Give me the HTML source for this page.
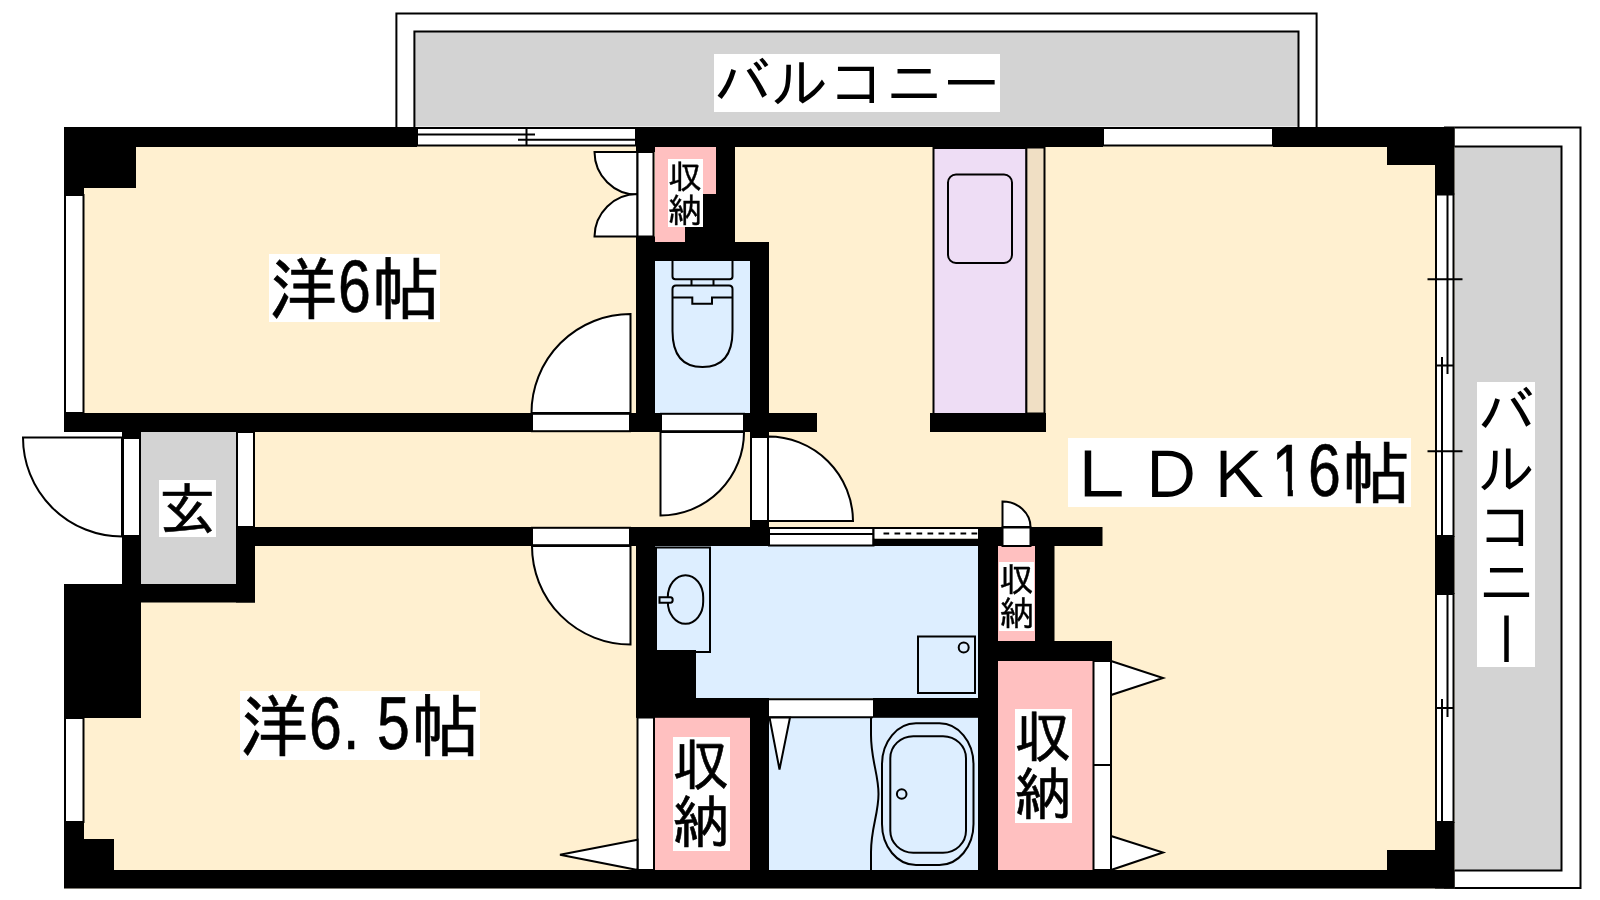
<!DOCTYPE html>
<html lang="ja">
<head>
<meta charset="utf-8">
<title>間取り図</title>
<style>
html,body{margin:0;padding:0;background:#fff;}
body{width:1600px;height:900px;position:relative;overflow:hidden;
  font-family:"Liberation Sans","IPAGothic",sans-serif;color:#000;}
svg{position:absolute;left:0;top:0;display:block;}
.lb{position:absolute;background:#fff;filter:grayscale(1);white-space:nowrap;line-height:1;overflow:visible;}
.lb span.t{position:absolute;left:0;top:0;display:block;line-height:1;}
.v{writing-mode:vertical-rl;}
.n{display:inline-block;width:0.5em;transform-origin:0 84.65%;transform:translate(0px,-2px) scale(0.86,1.073);-webkit-text-stroke:0.65px #000;}
.one{clip-path:polygon(0 0,71.5% 0,71.5% 100%,54% 100%,54% 50%,0 50%);transform:translate(-2.2px,-2px) scale(0.86,1.073);}
.fw{display:inline-block;transform-origin:0 84.65%;transform:translateY(1.500px) scale(1,0.96);-webkit-text-stroke:0;}
.k{-webkit-text-stroke:0.6px #000;}
.k2{-webkit-text-stroke:0.35px #000;}
</style>
</head>
<body>
<svg width="1600" height="900" viewBox="0 0 1600 900">
<rect x="0" y="0" width="1600" height="900" fill="#ffffff"/>

<!-- balconies -->
<g fill="none" stroke="#000" stroke-width="2">
  <path d="M396.400,127 V13.500 H1316.600 V127" fill="#fff"/>
  <rect x="414.400" y="31.500" width="884.100" height="95" fill="#d3d3d3" stroke="none"/>
  <path d="M414.400,127 V31.500 H1298.500 V127"/>
  <path d="M1444,127.5 H1580.5 V888 H1444" fill="#fff"/>
  <rect x="1452" y="146.5" width="109.5" height="724" fill="#d3d3d3"/>
</g>

<!-- floor -->
<path d="M64,127 H1454.5 V888.5 H64 V584 H122 V432 H64 Z" fill="#fff0d0"/>

<!-- genkan -->
<rect x="141" y="432" width="95" height="152" fill="#d3d3d3"/>

<!-- water areas -->
<g fill="#ddeeff">
  <rect x="655" y="261" width="95" height="152"/>
  <rect x="655" y="546" width="323" height="152"/>
  <rect x="769" y="717" width="209" height="153"/>
</g>
<!-- closets -->
<g fill="#ffc0c0">
  <rect x="655" y="146" width="61" height="48"/>
  <rect x="655" y="193" width="48" height="34"/>
  <rect x="655" y="226" width="30" height="16"/>
  <rect x="998" y="546" width="37" height="95"/>
  <rect x="998" y="661" width="95.500" height="209"/>
  <rect x="655" y="717" width="95" height="153"/>
</g>
<!-- kitchen -->
<rect x="1026.2" y="147.5" width="18.3" height="266" fill="#f0dfc4" stroke="#000" stroke-width="2"/>
<rect x="933.5" y="148" width="92.700" height="266" fill="#eeddf5" stroke="#000" stroke-width="2"/>
<rect x="948" y="174.500" width="64" height="88.500" rx="8" ry="8" fill="none" stroke="#000" stroke-width="2"/>

<!-- walls -->
<g fill="#000">
  <!-- top -->
  <rect x="64" y="127" width="353" height="20"/>
  <rect x="636" y="127" width="467" height="20"/>
  <rect x="1273" y="127" width="181.500" height="20"/>
  <rect x="64" y="127" width="72" height="61"/>
  <rect x="64" y="127" width="20" height="68"/>
  <!-- right -->
  <rect x="1435" y="127" width="19.500" height="67.500"/>
  <rect x="1387" y="146" width="48" height="19"/>
  <rect x="1435" y="536" width="19.500" height="58"/>
  <rect x="1435" y="822" width="19.500" height="66.500"/>
  <rect x="1387" y="850" width="48" height="20"/>
  <!-- bottom -->
  <rect x="64" y="870" width="1390.500" height="18.500"/>
  <rect x="64" y="822" width="20" height="66"/>
  <rect x="64" y="839" width="50" height="49"/>
  <!-- left column / genkan -->
  <rect x="64" y="584" width="77" height="134"/>
  <rect x="122" y="432" width="19" height="6"/>
  <rect x="122" y="536" width="19" height="48"/>
  <rect x="122" y="584" width="133" height="18.500"/>
  <rect x="236" y="527" width="19" height="75.500"/>
  <!-- wall y 413-432 -->
  <rect x="64" y="413" width="468" height="19"/>
  <rect x="630" y="413" width="31" height="19"/>
  <rect x="744" y="413" width="73" height="19"/>
  <!-- wall y 527-546 -->
  <rect x="236" y="527" width="296" height="19"/>
  <rect x="630" y="527" width="139" height="19"/>
  <rect x="750" y="521" width="19" height="8"/>
  <rect x="873" y="538.500" width="105" height="7.500"/>
  <rect x="978" y="527" width="24.500" height="19"/>
  <rect x="1030.500" y="527" width="72" height="19"/>
  <!-- closet / toilet -->
  <rect x="636" y="127" width="19" height="25"/>
  <rect x="636" y="236.500" width="19" height="176.500"/>
  <rect x="636" y="242" width="133" height="19"/>
  <rect x="716" y="146" width="19" height="115"/>
  <rect x="703" y="194" width="14" height="48"/>
  <rect x="685" y="227" width="32" height="15"/>
  <rect x="750" y="242" width="19" height="195"/>
  <!-- kitchen stub -->
  <rect x="930" y="413" width="116" height="19"/>
  <!-- washroom -->
  <rect x="636" y="546" width="19" height="171.500"/>
  <rect x="655" y="650" width="41" height="48"/>
  <rect x="636" y="698" width="133" height="19.800"/>
  <rect x="873" y="698" width="125" height="19.800"/>
  <rect x="750" y="717" width="19" height="153"/>
  <rect x="978" y="527" width="20" height="343"/>
  <rect x="1035" y="546" width="19.500" height="95"/>
  <rect x="998" y="641" width="114" height="20"/>
</g>

<!-- openings / frames / windows -->
<g fill="#fff" stroke="#000" stroke-width="2">
  <!-- left windows -->
  <rect x="65" y="195" width="18.500" height="218"/>
  <rect x="65" y="718" width="18.500" height="104"/>
  <!-- top window room 1 -->
  <rect x="417" y="128" width="219" height="17.500"/>
  <path d="M417,134.500 H535 M518,139.700 H636 M526.500,128 V146" fill="none"/>
  <!-- top window LDK -->
  <rect x="1103" y="128" width="170" height="17.500"/>
  <!-- right windows -->
  <rect x="1436" y="194.500" width="17.500" height="341.500"/>
  <rect x="1436" y="594" width="17.500" height="228"/>
  <path d="M1447.500,194.500 V374 M1442,357 V536 M1436,365.500 H1453.500 M1427.500,279.300 H1462.500 M1427.500,451.300 H1462.500" fill="none"/>
  <path d="M1447.500,594 V717 M1442,699 V822 M1436,708 H1453.500" fill="none"/>
  <!-- entry door -->
  <path d="M122,437.500 H23 A99,99 0 0 0 122,536.500 Z"/>
  <rect x="123" y="438" width="17" height="98"/>
  <rect x="237" y="432" width="17" height="95"/>
  <!-- room1 door -->
  <path d="M630.500,413 V314 A99,99 0 0 0 531.500,413 Z"/>
  <rect x="532" y="413.800" width="98" height="17.400"/>
  <!-- toilet door -->
  <path d="M660.500,432 V515.500 A83.500,83.500 0 0 0 744,432 Z"/>
  <rect x="661" y="413.800" width="83" height="17.400"/>
  <!-- LDK door -->
  <path d="M768,521 H853 A85,85 0 0 0 768,436.500 Z"/>
  <rect x="751" y="437" width="17" height="84"/>
  <!-- room2 door -->
  <path d="M630.500,546 V644.500 A98.500,98.500 0 0 1 532,546 Z"/>
  <rect x="532" y="527.800" width="98" height="17.400"/>
  <!-- closet 1 double doors -->
  <path d="M637.500,152 H594.500 A43,43 0 0 0 637.500,194.700 Z"/>
  <path d="M637.500,236.500 H594.500 A43,43 0 0 1 637.500,194 Z"/>
  <rect x="637.500" y="152" width="16" height="84.500"/>
  <!-- washroom sliding door -->
  <rect x="769" y="528" width="104.500" height="17.500"/>
  <path d="M769,534 H873.500" fill="none"/>
  <rect x="873.500" y="528" width="104.500" height="10.500" stroke="none"/>
  <path d="M873.500,528 H978 M873.500,528 V546" fill="none"/>
  <path d="M883.500,533.500 H978" fill="none" stroke-dasharray="5.700,5.300"/>
  <!-- small closet door -->
  <path d="M1002.500,527 V501.500 A28,25.500 0 0 1 1030.500,527 Z"/>
  <rect x="1002.500" y="527.500" width="28" height="18.500"/>
  <!-- washroom to bath opening -->
  <rect x="769" y="698.500" width="104" height="19" stroke="none"/>
  <path d="M769,699.200 H873 M769,717.200 H873" fill="none"/>
  <!-- bath folding door -->
  <path d="M769.500,717.500 L779.500,769.500 L790,717.500 Z"/>
  <!-- closet bottom-left -->
  <rect x="637.500" y="717.500" width="16.500" height="152.500"/>
  <path d="M637.500,839.700 L560,854.700 L637.500,870 Z"/>
  <!-- big closet -->
  <rect x="1093.500" y="661" width="17.500" height="209"/>
  <path d="M1093.500,765 H1111" fill="none"/>
  <path d="M1111,661 L1163,678 L1111,695 Z"/>
  <path d="M1111,836 L1163,852.500 L1111,870 Z"/>
</g>

<!-- fixtures -->
<g fill="none" stroke="#000" stroke-width="2">
  <!-- toilet -->
  <path d="M672.500,261 V276.500 Q672.500,279.300 675.300,279.300 H729.700 Q732.500,279.300 732.500,276.500 V261"/>
  <path d="M691.500,279.300 V285.500 M713.500,279.300 V285.500"/>
  <path d="M672.500,331 V289 Q672.500,285.500 676,285.500 H729 Q732.500,285.500 732.500,289 V331 C732.500,355 722,367 702.500,367 C683,367 672.500,355 672.500,331 Z"/>
  <path d="M672.500,297.500 H692.300 V303.800 H712 V297.500 H732.500"/>
  <!-- vanity -->
  <rect x="656" y="547.500" width="54" height="104.500"/>
  <rect x="667.800" y="575.200" width="35.400" height="48.600" rx="17.700" ry="22"/>
  <path d="M659.500,597.300 H670.500 Q672.700,597.300 672.700,600 Q672.700,602.700 670.500,602.700 H659.500 Z" fill="#ddeeff"/>
  <!-- washing machine pan -->
  <rect x="918" y="636.500" width="57" height="56.500"/>
  <circle cx="963.700" cy="647.500" r="5"/>
  <!-- bath -->
  <path d="M871,718 V735 C871,760 878.500,774 878.500,794 C878.500,814 871,828 871,852 V870"/>
  <rect x="882" y="723.300" width="91.500" height="141.700" rx="34" ry="41"/>
  <rect x="890.300" y="736.200" width="75.700" height="116.600" rx="23" ry="22"/>
  <circle cx="901.700" cy="794" r="4.800"/>
</g>
</svg>

<!-- labels -->
<div class="lb" style="left:269px;top:254px;width:171px;height:68px;font-size:68.500px;"><span class="t k" style="top:3.200px;">洋<span class="n">6</span>帖</span></div>
<div class="lb" style="left:240px;top:691px;width:240px;height:69px;font-size:68.500px;"><span class="t k" style="top:3.200px;">洋<span class="n">6</span><span class="n">.</span><span class="n">5</span>帖</span></div>
<div class="lb" style="left:1068px;top:438px;width:343px;height:69px;font-size:68.500px;"><span class="t k" style="top:2.800px;"><span class="fw">ＬＤＫ</span><span class="n one">1</span><span class="n">6</span>帖</span></div>
<div class="lb" style="left:714px;top:54px;width:286px;height:58px;font-size:57.200px;"><span class="t" style="top:1.500px;">バルコニー</span></div>
<div class="lb" style="left:1477px;top:382px;width:58px;height:285px;font-size:57px;"><span class="t v" style="left:-1px;top:-0.500px;">バルコニー</span></div>
<div class="lb" style="left:159px;top:480px;width:57px;height:57px;font-size:57px;"><span class="t k" style="top:2.300px;">玄</span></div>
<div class="lb" style="left:668px;top:159px;width:35px;height:68px;font-size:34px;"><span class="t v k2" style="left:-1px;top:-1px;">収納</span></div>
<div class="lb" style="left:999px;top:562px;width:35px;height:69px;font-size:34.500px;"><span class="t v k2" style="left:-1px;top:-1px;">収納</span></div>
<div class="lb" style="left:673px;top:737px;width:57px;height:114px;font-size:57px;"><span class="t v k" style="left:-2.700px;top:-2px;">収納</span></div>
<div class="lb" style="left:1015px;top:709px;width:57px;height:114px;font-size:57px;"><span class="t v k" style="left:-2.700px;top:-2px;">収納</span></div>
</body>
</html>
